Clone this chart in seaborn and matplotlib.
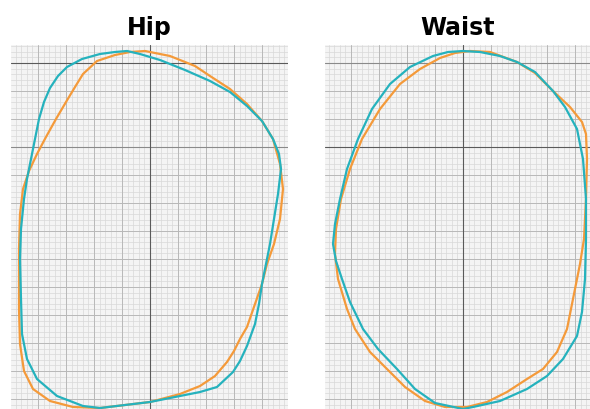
import numpy as np
import pandas as pd
import seaborn as sns
import matplotlib.pyplot as plt

# outline points, offsets from the centre lines of the grid paper
hip_orange_x = [-5, 20, 45, 60, 80, 97, 112, 123, 130, 133, 130, 124, 117, 112, 105, 97, 90, 84, 77, 65,
                50, 30, 0, -25, -50, -77, -100, -117, -126, -130, -131, -131, -131, -130, -127, -121, -113,
                -104, -94, -84, -75, -67, -53, -35, -20]
hip_orange_y = [12, 7, -3, -13, -26, -41, -58, -76, -101, -126, -156, -181, -201, -221, -241, -264, -276,
                -288, -299, -313, -323, -331, -339, -342, -345, -344, -338, -326, -308, -281, -246, -216,
                -186, -151, -126, -108, -91, -74, -56, -39, -24, -11, 2, 8, 11]

hip_teal_x = [-23, -10, 10, 35, 60, 80, 97, 112, 123, 129, 131, 128, 124, 120, 116, 112, 109, 105, 97, 90,
              83, 67, 50, 30, 0, -25, -50, -67, -93, -113, -123, -128, -129, -130, -129, -126, -123, -119,
              -115, -111, -106, -100, -92, -83, -68, -50, -35]
hip_teal_y = [12, 9, 3, -7, -18, -29, -43, -58, -76, -91, -106, -131, -156, -181, -201, -221, -241, -261,
              -283, -298, -309, -324, -329, -333, -339, -342, -345, -343, -333, -316, -296, -271, -236,
              -196, -166, -136, -116, -96, -76, -56, -39, -25, -13, -4, 4, 9, 11]

waist_orange_x = [7, 27, 54, 72, 90, 107, 119, 123, 124, 123, 121, 117, 114, 109, 104, 94, 80, 64, 44, 24,
                  4, -18, -38, -58, -76, -93, -108, -116, -125, -128, -127, -122, -113, -101, -83, -63,
                  -43, -23, -8]
waist_orange_y = [12, 11, 1, -10, -28, -44, -59, -71, -96, -136, -176, -201, -216, -241, -266, -289, -306,
                  -316, -329, -339, -344, -344, -338, -324, -306, -289, -266, -246, -216, -191, -166, -136,
                  -106, -76, -46, -21, -6, 5, 10]

waist_teal_x = [0, 17, 37, 54, 72, 90, 102, 114, 120, 123, 123, 122, 119, 114, 100, 84, 64, 37, 10, 0,
                -28, -48, -66, -85, -100, -113, -121, -127, -130, -128, -123, -116, -105, -91, -73, -53,
                -30, -15]
waist_teal_y = [12, 11, 7, 1, -9, -28, -44, -66, -96, -136, -176, -216, -249, -273, -296, -313, -326, -338,
                -344, -346, -340, -326, -306, -286, -266, -239, -216, -198, -181, -161, -136, -106, -76,
                -46, -21, -4, 7, 11]

panels = ["Hip", "Waist"]
series = ["after", "before"]
colors = {"after": "#F49A3A", "before": "#25B2BD"}

rows = []
outlines = {
    ("Hip", "after"): (hip_orange_x, hip_orange_y),
    ("Hip", "before"): (hip_teal_x, hip_teal_y),
    ("Waist", "after"): (waist_orange_x, waist_orange_y),
    ("Waist", "before"): (waist_teal_x, waist_teal_y),
}
for (panel, s), (xs, ys) in outlines.items():
    xs = list(xs) + [xs[0]]
    ys = list(ys) + [ys[0]]
    for i, (x, y) in enumerate(zip(xs, ys)):
        rows.append({"panel": panel, "series": s, "order": i, "x": x, "y": y})
df = pd.DataFrame(rows)

sns.set_style("white", {"axes.facecolor": "#f4f4f4"})

fig = plt.figure(figsize=(5.9, 4.1), dpi=100)
limits = {"Hip": (-139, 138), "Waist": (-138, 127)}
boxes = {"Hip": [11 / 590, 0, 277 / 590, 364 / 410],
         "Waist": [325 / 590, 0, 265 / 590, 364 / 410]}
dark_h = {"Hip": [0], "Waist": [-84]}
mid_h = {"Hip": [-84], "Waist": [0]}

for panel in panels:
    ax = fig.add_axes(boxes[panel])

    # grid paper
    for v in np.arange(-28 * 5, 28 * 5 + 1, 5.6):
        ax.axvline(v, color="#d8d8d8", lw=0.5, zorder=0)
    for v in np.arange(-28 * 13, 28 + 1, 5.6):
        ax.axhline(v, color="#d8d8d8", lw=0.5, zorder=0)
    for v in np.arange(-28 * 5, 28 * 5 + 1, 28):
        ax.axvline(v, color="#b8b8b8", lw=0.7, zorder=0)
    for v in np.arange(-28 * 13, 28 + 1, 28):
        ax.axhline(v, color="#b8b8b8", lw=0.7, zorder=0)
    for v in mid_h[panel]:
        ax.axhline(v, color="#8a8a8a", lw=0.8, zorder=0)
    for v in dark_h[panel]:
        ax.axhline(v, color="#5a5a5a", lw=0.8, zorder=0)
    ax.axvline(0, color="#5a5a5a", lw=0.8, zorder=0)

    sub = df[df["panel"] == panel]
    for s in series:
        part = sub[sub["series"] == s].sort_values("order")
        sns.lineplot(data=part, x="x", y="y", sort=False, estimator=None,
                     color=colors[s], lw=1.6, ax=ax, legend=False)

    ax.set_xlim(*limits[panel])
    ax.set_ylim(-346, 18)
    ax.set_xticks([])
    ax.set_yticks([])
    ax.set_xlabel("")
    ax.set_ylabel("")
    for sp in ax.spines.values():
        sp.set_visible(False)
    ax.set_title(panel, fontsize=17, fontweight="bold", color="black", pad=8)

fig.savefig("out.png", dpi=100)
